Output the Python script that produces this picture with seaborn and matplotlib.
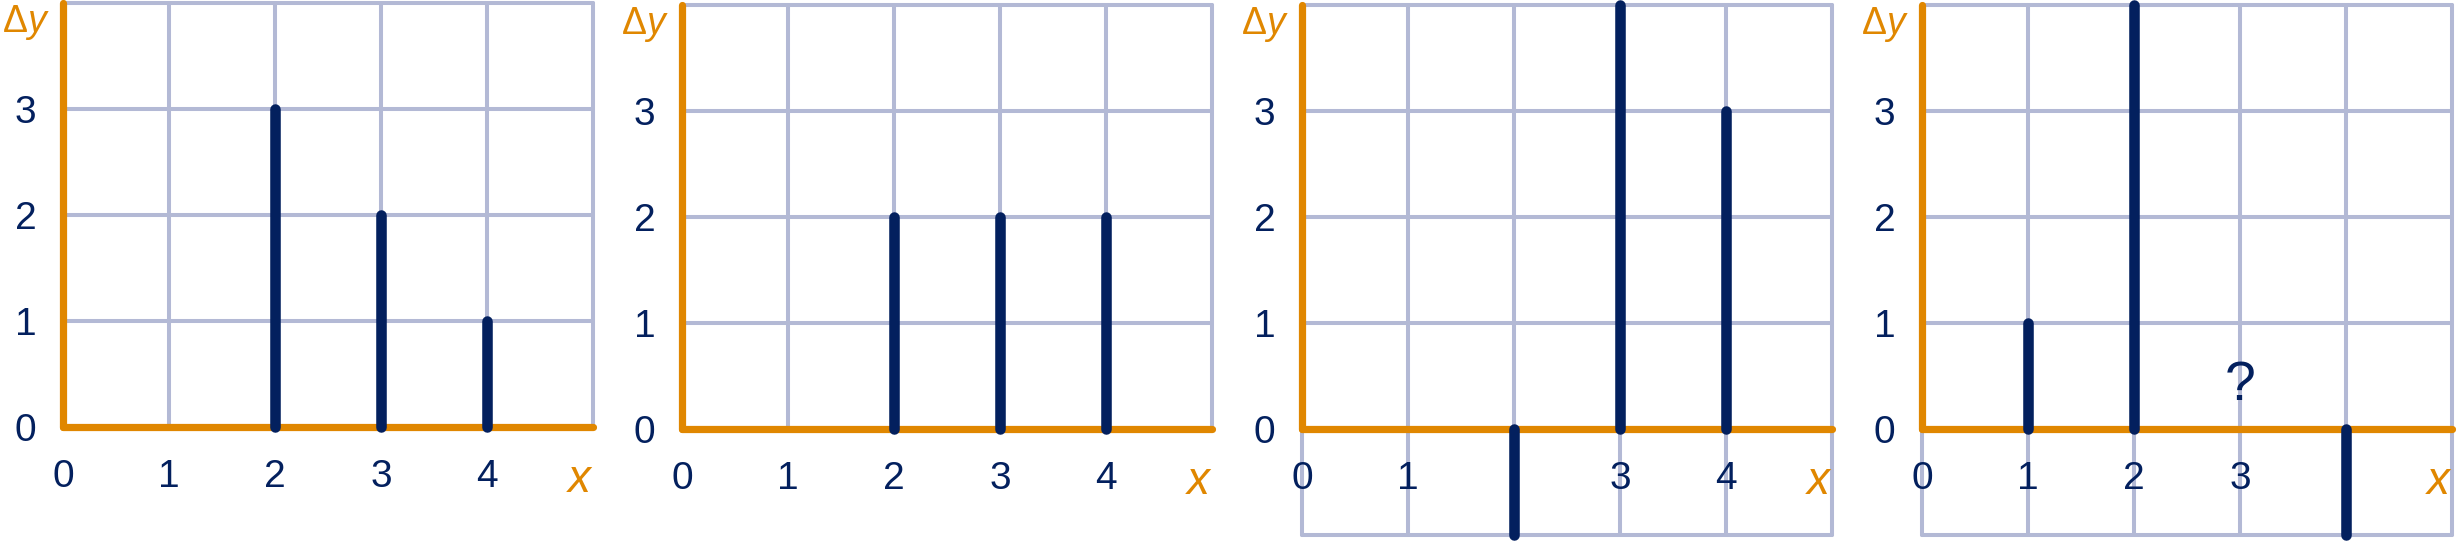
import pandas as pd
import seaborn as sns
import matplotlib
matplotlib.use("Agg")
import matplotlib.pyplot as plt

sns.set_style("white")
plt.rcParams["font.family"] = ["Liberation Sans", "DejaVu Sans"]
plt.rcParams["mathtext.fontset"] = "custom"
plt.rcParams["mathtext.rm"] = "Liberation Sans"
plt.rcParams["mathtext.it"] = "Liberation Sans:italic"

# bar data for the four panels: x position and change in y
p1_x = [2, 3, 4]
p1_dy = [3, 2, 1]
p2_x = [2, 3, 4]
p2_dy = [2, 2, 2]
p3_x = [2, 3, 4]
p3_dy = [-1, 4, 3]
p4_x = [1, 2, 4]
p4_dy = [1, 4, -1]

y_ticks = [0, 1, 2, 3]
x_ticks_1 = [0, 1, 2, 3, 4]
x_ticks_2 = [0, 1, 2, 3, 4]
x_ticks_3 = [0, 1, 3, 4]
x_ticks_4 = [0, 1, 2, 3]

ORANGE = "#E08700"
NAVY = "#03205E"
GRID = "#B3B9D5"

W, H = 2457, 541
UNIT = 106  # pixels per data unit
fig = plt.figure(figsize=(W / 100, H / 100), dpi=100)

# pixel position (from the top-left) of the origin of each panel
origins = [(63, 427), (682, 429), (1302, 429), (1922, 429)]

panels = [
    (p1_x, p1_dy, x_ticks_1, False),
    (p2_x, p2_dy, x_ticks_2, False),
    (p3_x, p3_dy, x_ticks_3, True),
    (p4_x, p4_dy, x_ticks_4, True),
]

for i, ((xs, dys, xt, below), (ox, oy)) in enumerate(zip(panels, origins)):
    bottom = H - (oy + UNIT)
    ax = fig.add_axes([ox / W, bottom / H, 5 * UNIT / W, 5 * UNIT / H])
    ax.set_xlim(0, 5)
    ax.set_ylim(-1, 4)
    ax.axis("off")

    # grid
    ymin = -1 if below else 0
    for gx in range(0 if below else 1, 6):
        ax.plot([gx, gx], [ymin, 4], color=GRID, lw=2.9, zorder=1, clip_on=False)
    for gy in range(ymin, 5):
        if gy == 0:
            continue
        ax.plot([0, 5], [gy, gy], color=GRID, lw=2.9, zorder=1, clip_on=False)

    # orange axes
    ax.plot([0, 5], [0, 0], color=ORANGE, lw=5.2, solid_capstyle="round", zorder=2, clip_on=False)
    ax.plot([0, 0], [0, 4], color=ORANGE, lw=5.2, solid_capstyle="round", zorder=2, clip_on=False)

    # bars
    rows = []
    for k, (bx, dy) in enumerate(zip(xs, dys)):
        rows.append({"x": bx, "y": 0, "bar": k})
        rows.append({"x": bx, "y": dy, "bar": k})
    df = pd.DataFrame(rows)
    sns.lineplot(data=df, x="x", y="y", units="bar", estimator=None, sort=False,
                 color=NAVY, lw=7.6, solid_capstyle="round", legend=False,
                 ax=ax, zorder=3, clip_on=False)
    ax.set_xlabel("")
    ax.set_ylabel("")
    ax.set_xlim(0, 5)
    ax.set_ylim(-1, 4)

    # tick labels
    for t in y_ticks:
        ax.text(-0.25, t - 0.135, str(t), ha="right", va="baseline", fontsize=28, color=NAVY)
    for t in xt:
        ax.text(t, -0.565, str(t), ha="center", va="baseline", fontsize=28, color=NAVY)

    ax.text(4.87, -0.61, "x", ha="center", va="baseline", fontsize=33, color=ORANGE,
            style="italic")
    ax.text(-0.35, 3.73, r"$\Delta y$", ha="center", va="baseline", fontsize=27,
            color=ORANGE)

    if i == 3:
        ax.text(3.0, 0.27, "?", ha="center", va="baseline", fontsize=40, color=NAVY)

fig.savefig("out.png", dpi=100)
